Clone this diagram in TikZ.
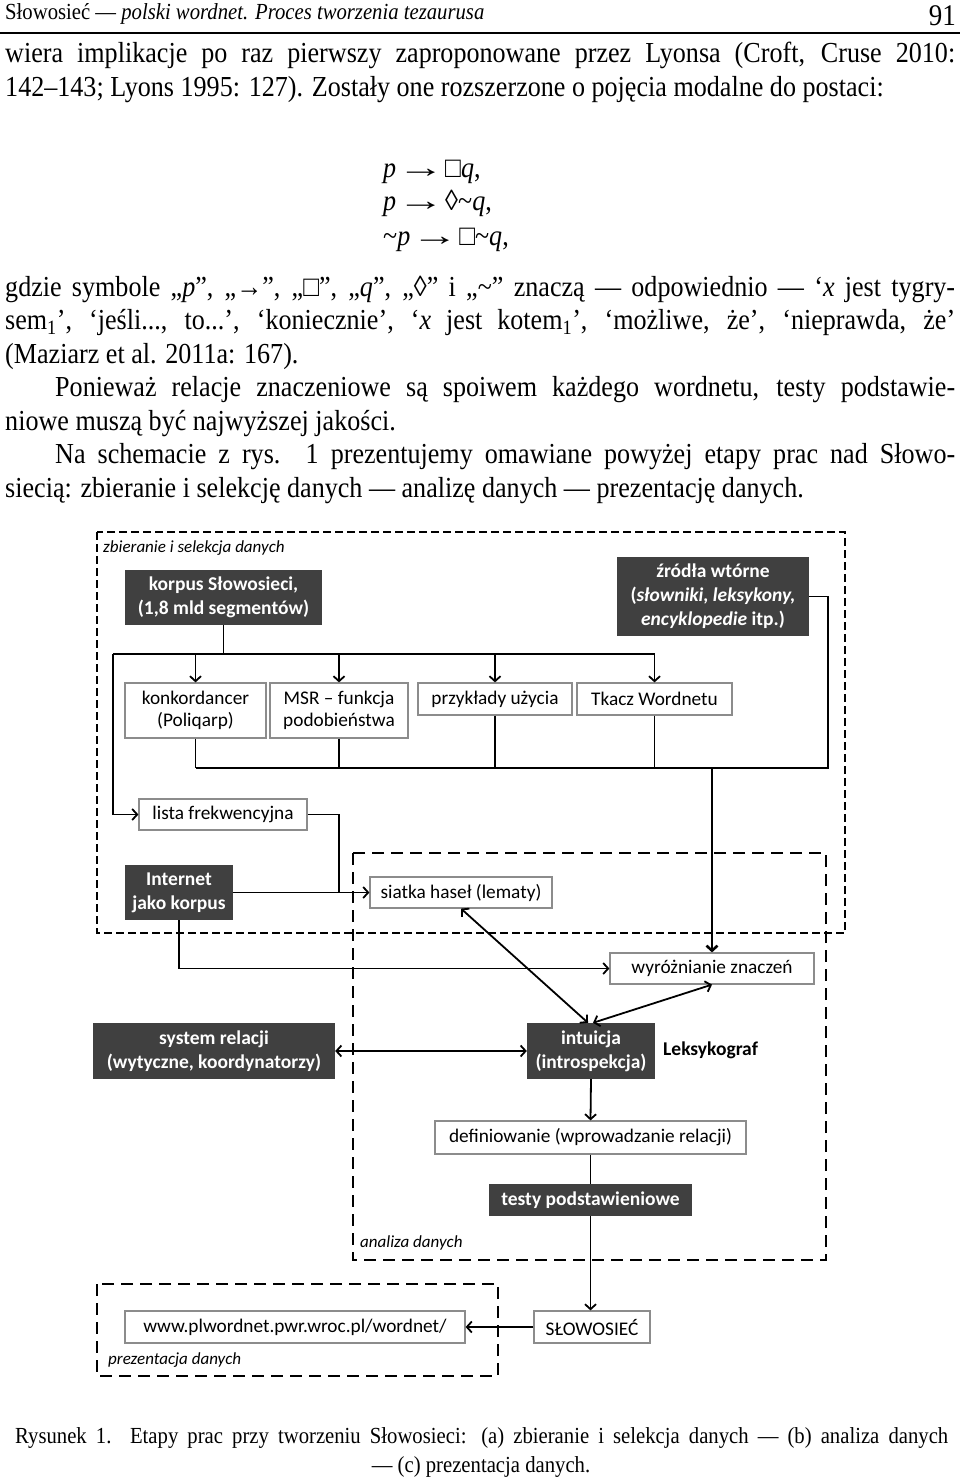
\documentclass[tikz,border=0pt]{standalone}
\usepackage{fontspec}
\usepackage{graphicx}
\setmainfont{Liberation Serif}
\newfontfamily\bodyfont{Liberation Serif}[FakeStretch=0.9]
\newfontfamily\calib{Carlito}
\usepackage{tikz}
\usetikzlibrary{arrows.meta}
\definecolor{boxdark}{HTML}{404040}
\definecolor{boxline}{HTML}{8C8C8C}
\newcommand{\txtsize}{\bodyfont\fontsize{29}{33}\selectfont}
\newcommand{\capsize}{\bodyfont\fontsize{23}{26}\selectfont}
\newcommand{\diasize}{\calib\fontsize{19.3}{22}\selectfont}
\newcommand{\impl}{\hspace{1pt}\scalebox{1.8}[1]{→}\hspace{1pt}}
\tikzset{
    wbox/.style={
        draw=boxline, line width=1.2pt, fill=white,
        align=center, inner sep=0pt,
        font=\diasize
    },
    dbox/.style={
        fill=boxdark, text=white,
        align=center, inner sep=0pt,
        font=\calib\bfseries\fontsize{19.5}{24}\selectfont
    },
    wire/.style={line width=1.8pt},
    conn/.style={
        wire,
        -{Straight Barb[length=5pt,width=11pt]},
    },
    dconn/.style={
        wire,
        {Straight Barb[length=5pt,width=11pt]}-{Straight Barb[length=5pt,width=11pt]},
    },
    dashframe/.style={line width=2.4pt, dash pattern=on 12pt off 7pt},
    finedash/.style={line width=2.4pt, dash pattern=on 8pt off 4pt},
    framelabel/.style={anchor=west, inner sep=0pt,
        font=\calib\itshape\fontsize{17}{20}\selectfont},
    txt/.style={anchor=base west, inner sep=0pt, font=\txtsize},
}

\begin{document}
\begin{tikzpicture}[x=1pt,y=-1pt]
        \fill[white] (0,0) rectangle (960,1479);
        \useasboundingbox (0,0) rectangle (960,1479);

        % running head
        \node[txt, font=\bodyfont\fontsize{23}{25}\selectfont] (head) at (5,20) {Słowosieć — \textit{polski wordnet. Proces tworzenia tezaurusa}};
        \node[txt, anchor=base east, font=\bodyfont\fontsize{30}{30}\selectfont] (pagenum) at (956,26) {91};
        \draw[line width=1.2pt] (0,33) -- (960,33);

        % body text
        \node[txt] (l1) at (5,63) {\makebox[950pt][s]{wiera implikacje po raz pierwszy zaproponowane przez Lyonsa (Croft, Cruse 2010:}};
        \node[txt] (l2) at (5,97) {142–143; Lyons 1995: 127). Zostały one rozszerzone o pojęcia modalne do postaci:};
        \node[txt] (f1) at (383,178) {\textit{p}\impl□\textit{q},};
        \node[txt] (f2) at (383,211) {\textit{p}\impl◊\textasciitilde\textit{q},};
        \node[txt] (f3) at (383,245) {\textasciitilde\textit{p}\impl□\textasciitilde\textit{q},};
        \node[txt] (l3) at (5,296) {\makebox[950pt][s]{gdzie symbole „\textit{p}”, „→”, „□”, „\textit{q}”, „◊” i „\textasciitilde” znaczą — odpowiednio — ‘\textit{x} jest tygry-}};
        \node[txt] (l4) at (5,329.5) {\makebox[950pt][s]{sem\textsubscript{1}’, ‘jeśli..., to...’, ‘koniecznie’, ‘\textit{x} jest kotem\textsubscript{1}’, ‘możliwe, że’, ‘nieprawda, że’}};
        \node[txt] (l5) at (5,363) {(Maziarz et al. 2011a: 167).};
        \node[txt] (l6) at (55,396.5) {\makebox[900pt][s]{Ponieważ relacje znaczeniowe są spoiwem każdego wordnetu, testy podstawie-}};
        \node[txt] (l7) at (5,430) {niowe muszą być najwyższej jakości.};
        \node[txt] (l8) at (55,463.5) {\makebox[900pt][s]{Na schemacie z rys. 1 prezentujemy omawiane powyżej etapy prac nad Słowo-}};
        \node[txt] (l9) at (5,497) {siecią: zbieranie i selekcję danych — analizę danych — prezentację danych.};

        % stage frames
        \draw[finedash] (97,532) rectangle (845,933);
        \draw[dashframe] (353,853) rectangle (826,1260);
        \draw[dashframe] (97,1284) rectangle (498,1376);
        \node[framelabel] (lab1) at (103,548) {zbieranie i selekcja danych};
        \node[framelabel] (lab2) at (360,1243) {analiza danych};
        \node[framelabel] (lab3) at (108,1360) {prezentacja danych};

        % boxes
        \node[dbox, minimum width=197, minimum height=55] (korp) at (223.5,597.5) {korpus Słowosieci,\\(1,8 mld segmentów)};
        \node[dbox, minimum width=192, minimum height=79] (zrodla) at (713,596.5) {źródła wtórne\\(\textit{słowniki, leksykony,}\\\textit{encyklopedie} itp.)};
        \node[wbox, minimum width=141, minimum height=55] (konk) at (195.5,710.5) {konkordancer\\(Poliqarp)};
        \node[wbox, minimum width=138, minimum height=55] (msr) at (339,710.5) {MSR – funkcja\\podobieństwa};
        \node[wbox, minimum width=154, minimum height=32] (przyk) at (495,699) {przykłady użycia};
        \node[wbox, minimum width=155, minimum height=32] (tkacz) at (654.5,699) {Tkacz Wordnetu};
        \node[wbox, minimum width=168, minimum height=31] (lista) at (223,814.5) {lista frekwencyjna};
        \node[dbox, minimum width=108, minimum height=55] (inet) at (179,892.5) {Internet\\jako korpus};
        \node[wbox, minimum width=182, minimum height=31] (siatka) at (461,892.5) {siatka haseł (lematy)};
        \node[wbox, minimum width=204, minimum height=31] (wyr) at (712,968.5) {wyróżnianie znaczeń};
        \node[dbox, minimum width=128, minimum height=56] (intu) at (591,1051) {intuicja\\(introspekcja)};
        \node[dbox, minimum width=242, minimum height=56] (sys) at (214,1051) {system relacji\\(wytyczne, koordynatorzy)};
        \node[anchor=west, inner sep=0pt, font=\calib\bfseries\fontsize{19.5}{24}\selectfont] (leks) at (663,1050) {Leksykograf};
        \node[wbox, minimum width=311, minimum height=33] (defi) at (590.5,1137.5) {definiowanie (wprowadzanie relacji)};
        \node[dbox, minimum width=203, minimum height=32] (testy) at (590.5,1200) {testy podstawieniowe};
        \node[wbox, minimum width=340, minimum height=32] (url) at (295,1327) {www.plwordnet.pwr.wroc.pl/wordnet/};
        \node[wbox, minimum width=116, minimum height=32] (slowo) at (592,1327) {SŁOWOSIEĆ};

        % connectors
        \coordinate (busL) at (113,654);
        \coordinate (lowL) at (196,768);
        \coordinate (lowR) at (828,768);
        \coordinate (join) at (339,892.5);
        \draw[wire] (korp.south) -- (korp.south |- busL);
        \draw[wire] (busL) -- (busL -| tkacz.north);
        \foreach \n in {konk,msr,przyk,tkacz}
            \draw[conn] (busL -| \n.north) -- (\n.north);
        \foreach \n in {konk,msr,przyk,tkacz}
            \draw[wire] (\n.south) -- (\n.south |- lowL);
        \draw[wire] (konk.south |- lowL) -- (lowR) |- (zrodla.east);
        \draw[conn, line width=2.6pt] (tkacz.south |- lowL) -| (wyr.north);
        \draw[conn] (busL) |- (lista.west);
        \draw[wire] (lista.east) -| (join);
        \draw[conn] (inet.east) -- (siatka.west);
        \draw[conn] (inet.south) |- (wyr.west);
        \draw[dconn] (siatka.south) -- ([xshift=-3pt]intu.north);
        \draw[dconn] (wyr.south) -- ([xshift=2pt]intu.north);
        \draw[dconn] (sys.east) -- (intu.west);
        \draw[conn] (intu.south) -- (defi.north);
        \draw[wire] (defi.south) -- (testy.north);
        \draw[conn] (testy.south) -- (testy.south |- slowo.north);
        \draw[conn] (slowo.west) -- (url.east);

        % caption
        \node[txt, font=\capsize] (cap1) at (15,1443) {\makebox[933pt][s]{Rysunek 1. Etapy prac przy tworzeniu Słowosieci: (a) zbieranie i selekcja danych — (b) analiza danych}};
        \node[anchor=base, inner sep=0pt, font=\capsize] (cap2) at (481,1472) {— (c) prezentacja danych.};
    \end{tikzpicture}
\end{document}
